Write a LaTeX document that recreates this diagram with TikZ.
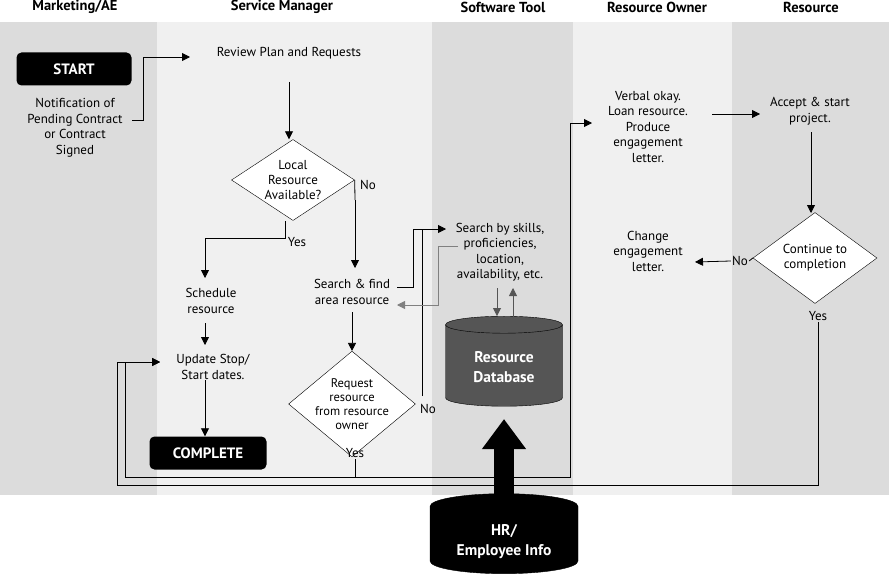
\documentclass[tikz,border=0pt]{standalone}
\usepackage{fontspec}
\setmainfont{PT Sans}
\usetikzlibrary{shapes.geometric, arrows.meta, positioning}
\definecolor{laneDark}{HTML}{DCDCDC}
\definecolor{laneLight}{HTML}{F0F0F0}
\definecolor{dbGray}{HTML}{555555}
\tikzstyle{txt} = [align=center, font=\fontsize{13}{15.5}\selectfont, inner sep=1pt]
\tikzstyle{head} = [font=\fontsize{14.5}{16}\selectfont\bfseries]
\tikzstyle{term} = [rectangle, rounded corners=5pt, fill=black, text=white, font=\fontsize{15}{16}\selectfont\bfseries, minimum height=33pt]
\tikzstyle{decision} = [diamond, draw=black, fill=white, align=center, font=\fontsize{13}{15}\selectfont, inner sep=0pt]
\tikzstyle{db} = [cylinder, shape border rotate=90, aspect=0.25, draw=black, text=white, align=center]
\tikzstyle{arrow} = [thick, -{Triangle[length=8pt,width=8pt]}]
\tikzstyle{line} = [thick]

\begin{document}
\begin{tikzpicture}[x=1pt, y=-1pt]
			\useasboundingbox (0,0) rectangle (889,578);
			% Lanes
			\fill[laneDark] (0,22) rectangle (157,495);
			\fill[laneLight] (157,22) rectangle (432,495);
			\fill[laneDark] (432,22) rectangle (573,495);
			\fill[laneLight] (573,22) rectangle (732,495);
			\fill[laneDark] (732,22) rectangle (889,495);
			\node[head] at (75,7) {Marketing/AE};
			\node[head] at (282,7) {Service Manager};
			\node[head] at (503,7) {Software Tool};
			\node[head] at (657,7) {Resource Owner};
			\node[head] at (811,7) {Resource};
			% Nodes
			\node (start) [term, minimum width=115pt] at (74,69) {START};
			\node (notify) [txt] at (75,128) {Notification of\\Pending Contract\\or Contract\\Signed};
			\node (review) [txt] at (289,53) {Review Plan and Requests};
			\node (local) [decision, aspect=1.5, minimum width=123pt, minimum height=81pt] at (293,180) {Local\\Resource\\Available?};
			\node (schedule) [txt] at (211,301) {Schedule\\resource};
			\node (update) [txt] at (213,367) {Update Stop/\\Start dates.};
			\node (complete) [term, minimum width=117pt] at (208,453) {COMPLETE};
			\node (search) [txt] at (352,292) {Search \& find\\area resource};
			\node (request) [decision, aspect=1.2, font=\fontsize{12.5}{14}\selectfont, inner xsep=-4pt, minimum width=125pt, minimum height=100pt] at (352,404) {Request\\resource\\from resource\\owner};
			\node (skills) [txt] at (500,252) {Search by skills,\\proficiencies,\\location,\\availability, etc.};
			\node (resdb) [db, fill=dbGray, minimum width=117pt, minimum height=90pt, font=\fontsize{15.5}{20}\selectfont\bfseries] at (504,367) {Resource\\Database};
			\node (hrdb) [db, fill=black, minimum width=148pt, minimum height=80pt, font=\fontsize{15.5}{20}\selectfont\bfseries] at (504,542) {HR/\\Employee Info};
			\node (verbal) [txt] at (648,127) {Verbal okay.\\Loan resource.\\Produce\\engagement\\letter.};
			\node (accept) [txt] at (810,111) {Accept \& start\\project.};
			\node (cont) [decision, aspect=1.4, minimum width=124pt, minimum height=91pt] at (815,258) {Continue to\\completion};
			\node (change) [txt] at (648,251) {Change\\engagement\\letter.};
			% Labels
			\node (noLocal) [txt] at (368,185) {No};
			\node (yesLocal) [txt] at (297,242) {Yes};
			\node (noReq) [txt] at (428,409) {No};
			\node (yesReq) [txt] at (355,453) {Yes};
			\node (noCont) [txt] at (740,261) {No};
			\node (yesCont) [txt] at (818,316) {Yes};
			% Arrows
			\draw [arrow] (132,120) -| (143,57) -- (190,57);
			\draw [arrow] (289,82) -- (local.north -| 289,0);
			\draw [line] (local.east) -- (355,200);
			\draw [arrow] (355,200) -- (355,268);
			\draw [arrow] (285,221) |- (205,238) -- (205,278);
			\draw [arrow] (205,323) -- (205,345);
			\draw [arrow] (205,380) -- (complete.north -| 205,0);
			\draw [arrow] (352,312) -- (request.north);
			\draw [arrow] (397,287) -| (413,229) -- (446,229);
			\draw [line] (422,396) -- (422,229);
			\draw [arrow, gray] (458,246) -| (438,305) -- (397,305);
			\draw [arrow, dbGray] (497,288) -- (resdb.north -| 497,0);
			\draw [arrow, dbGray] (513,322) -- (513,288);
			\draw [line] (yesReq.south) -- (355,477);
			\draw [arrow] (125,477) -- (570,477) |- (592,123);
			\draw [arrow] (125,477) |- (160,362);
			\draw [arrow] (yesCont.south) |- (117,485) |- (160,362);
			\draw [arrow] (712,114) -- (760,114);
			\draw [arrow] (811,132) -- (811,213);
			\draw [arrow] (noCont.west) -- (695,262);
			\draw [line] (cont.west) -- (noCont.east);
			\draw [-{Triangle[length=30pt,width=42pt]}, line width=20pt] (hrdb.north) ++(0,4) -- (504,419);
		\end{tikzpicture}
\end{document}
